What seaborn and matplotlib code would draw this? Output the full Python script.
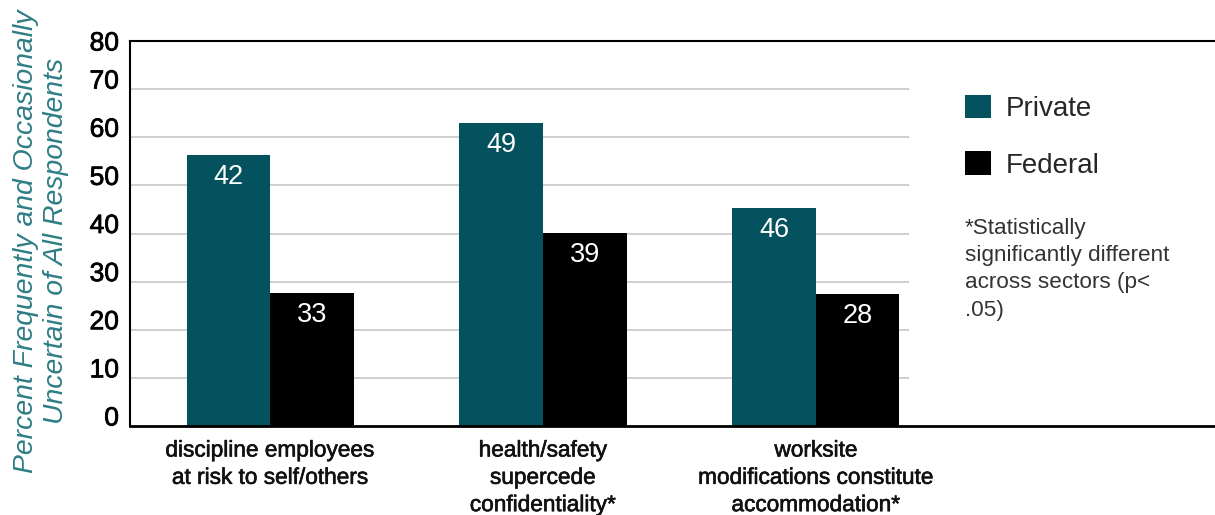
import matplotlib
matplotlib.use("Agg")
import matplotlib.pyplot as plt
import matplotlib.patheffects as pe
from matplotlib.transforms import ScaledTranslation
import seaborn as sns
import pandas as pd

# values
categories = ["discipline employees\nat risk to self/others",
              "health/safety\nsupercede\nconfidentiality*",
              "worksite\nmodifications constitute\naccommodation*"]
sectors = ["Private", "Federal"]
private_height = [56.3, 63.0, 45.3]   # bar tops as drawn against the axis
federal_height = [27.6, 40.1, 27.4]
private_label = [42, 49, 46]          # numbers printed in the bars
federal_label = [33, 39, 28]
yticks = [0, 10, 20, 30, 40, 50, 60, 70, 80]

teal = "#03525e"
label_teal = "#2e7d85"

df = pd.DataFrame({
    "category": categories * 2,
    "sector": ["Private"] * 3 + ["Federal"] * 3,
    "height": private_height + federal_height,
})

sns.set_style("white")
plt.rcParams["font.family"] = ["Liberation Sans", "DejaVu Sans"]

fig = plt.figure(figsize=(12.15, 5.15), dpi=100)
ax = fig.add_axes([130 / 1215, 89 / 515, 1085 / 1215, 385 / 515])

# grid only runs under the bars, not under the legend
ax.hlines(yticks[1:-1], -0.513, 2.34, color="#cccccc", lw=1.3, zorder=0)

sns.barplot(data=df, x="category", y="height", hue="sector",
            hue_order=sectors, palette=[teal, "black"], width=0.612,
            saturation=1, linewidth=0, ax=ax, zorder=2)

for cont, labs in zip(ax.containers, [private_label, federal_label]):
    ax.bar_label(cont, labels=[str(v) for v in labs], padding=-25,
                 color="white", fontsize=19.5)

ax.set_xlim(-0.513, 3.462)
ax.set_ylim(0, 80)
ax.set_yticks(yticks)
ax.set_xlabel("")
ax.set_ylabel("")
ax.tick_params(axis="y", length=0, pad=8, labelsize=19, labelcolor="black")
ax.tick_params(axis="x", length=0, pad=9, labelsize=16.3, labelcolor="#111111")

# medium-weight look for the axis text
for lab in ax.get_xticklabels():
    lab.set_linespacing(1.24)
    lab.set_path_effects([pe.withStroke(linewidth=0.45, foreground="#111111")])
lift = ScaledTranslation(0, 10 / 100, fig.dpi_scale_trans)
for lab in ax.get_yticklabels():
    lab.set_path_effects([pe.withStroke(linewidth=0.55, foreground="black")])
    if lab.get_text() != "80":
        lab.set_transform(lab.get_transform() + lift)

for side in ["top", "left"]:
    ax.spines[side].set_color("black")
    ax.spines[side].set_linewidth(1.5)
ax.spines["bottom"].set_color("black")
ax.spines["bottom"].set_linewidth(2)
ax.spines["right"].set_visible(False)

handles, labels = ax.get_legend_handles_labels()
ax.legend(handles, labels, loc="upper left", bbox_to_anchor=(0.7696, 0.860),
          frameon=False, fontsize=20, handlelength=0.93, handleheight=0.93,
          handletextpad=0.52, labelspacing=1.05, borderpad=0, borderaxespad=0)

fig.text(965 / 1215, 1 - 218 / 515,
         "*Statistically\nsignificantly different\nacross sectors (p<\n.05)",
         ha="left", va="top", fontsize=16.2, linespacing=1.39, color="#333333")

fig.text(41 / 1215, 1 - 241 / 515,
         "Percent Frequently and Occasionally\nUncertain of All Respondents",
         rotation=90, ha="center", va="center", fontsize=20.4, style="italic",
         linespacing=1.16, color=label_teal, multialignment="center")

fig.savefig("out.png", dpi=100)
